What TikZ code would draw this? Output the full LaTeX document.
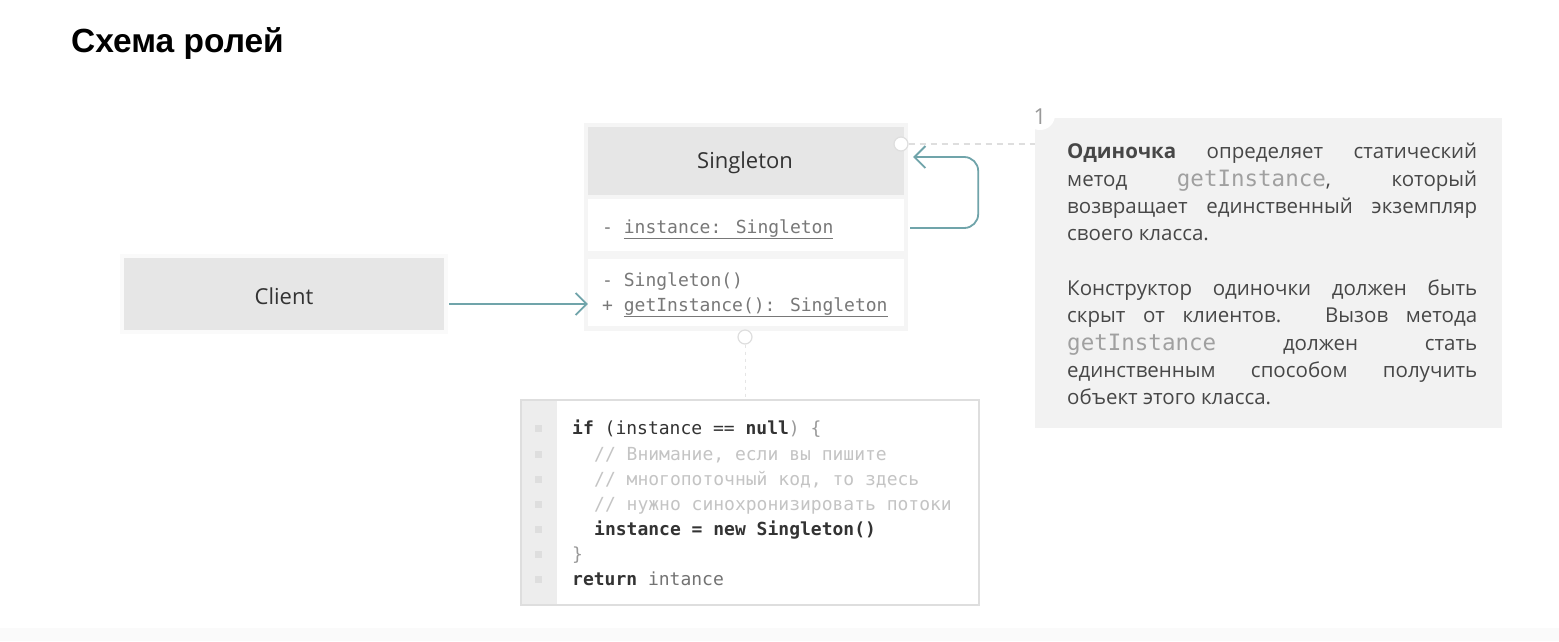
\documentclass[tikz,border=0pt]{standalone}
\usepackage{fontspec}
\setmainfont{Open Sans}
\newfontfamily\titlefont{Liberation Sans}
\newfontfamily\codefont{DejaVu Sans Mono}
\usetikzlibrary{arrows.meta,calc}

\definecolor{flowcol}{RGB}{112,164,170}
\definecolor{boxgray}{RGB}{230,230,230}
\definecolor{notegray}{RGB}{242,242,242}
\definecolor{edgegray}{RGB}{222,222,222}
\definecolor{memtext}{RGB}{120,120,120}
\definecolor{cmtgray}{RGB}{196,196,196}
\definecolor{darktext}{RGB}{51,51,51}

\newcommand{\gi}[1]{{\codefont\fontsize{22.5}{24}\selectfont\color[RGB]{160,160,160}#1}}
\newcommand{\nl}[1]{\makebox[410pt][s]{#1}}

\tikzset{
  clientbox/.style={rectangle, fill=boxgray, minimum width=320pt, minimum height=72pt,
    inner sep=0pt},
  headbox/.style={rectangle, fill=boxgray, minimum width=316pt, minimum height=68pt,
    inner sep=0pt},
  boxname/.style={inner sep=0pt, font=\fontsize{22}{26}\selectfont, text=darktext},
  membox/.style={rectangle, fill=white, minimum width=316pt, inner sep=0pt},
  memtxt/.style={anchor=base west, inner sep=0pt, text=memtext,
    font=\codefont\fontsize{18}{20}\selectfont},
  codetxt/.style={anchor=base west, inner sep=0pt, text=darktext,
    font=\codefont\fontsize{18}{20}\selectfont},
  notetxt/.style={anchor=base west, inner sep=0pt, text=darktext!90,
    font=\fontsize{20.5}{24}\selectfont},
  port/.style={circle, fill=white, draw=edgegray, line width=1.2pt,
    minimum size=14pt, inner sep=0pt},
  flow/.style={draw=flowcol, line width=1.8pt,
    -{Straight Barb[length=11pt, width=22pt, line width=1.8pt]}},
  leader/.style={draw=edgegray, line width=1.4pt, dash pattern=on 6pt off 5pt},
  gutterdot/.style={rectangle, fill=edgegray, minimum size=7pt, inner sep=0pt},
}

\begin{document}
\begin{tikzpicture}[x=1pt, y=-1pt]
  \useasboundingbox (0,0) rectangle (1559,641);
  \fill[white] (0,0) rectangle (1559,641);
  \fill[black!2] (0,628) rectangle (1559,641);

  % heading
  \node[anchor=base west, inner sep=0pt, font=\titlefont\bfseries\fontsize{33.5}{38}\selectfont]
    (title) at (71,52) {Схема ролей};

  % client
  \fill[black!2] (120,254) rectangle (448,334);
  \node[clientbox] (client) at (284,294) {};
  \node[boxname] (clientname) at (284,296) {Client};

  % singleton class
  \fill[black!4] (584,123) rectangle (908,331);
  \node[headbox] (head) at (746,161) {};
  \node[boxname] (headname) at (745,162.5) {Singleton};
  \node[membox, minimum height=52pt] (attrs) at (746,225) {};
  \node[membox, minimum height=67pt] (ops) at (746,292.5) {};
  \node[memtxt] (attr1) at (602,233) {- \underline{instance: Singleton}};
  \node[memtxt] (op1) at (602,286) {- Singleton()};
  \node[memtxt] (op2) at (602,311) {+ \underline{getInstance(): Singleton}};

  % note card
  \node[rectangle, fill=notegray, minimum width=467pt, minimum height=310pt, inner sep=0pt]
    (note) at (1268.5,273) {};
  \fill[white] (1040,115) circle (15);
  \node[inner sep=0pt, text=black!40, font=\fontsize{22}{24}\selectfont] (num) at (1040,117) {1};
  \node[notetxt] (n1) at (1067,158) {\nl{\textbf{Одиночка} определяет статический}};
  \node[notetxt] (n2) at (1067,186) {\nl{метод \gi{getInstance}, который}};
  \node[notetxt] (n3) at (1067,213) {\nl{возвращает единственный экземпляр}};
  \node[notetxt] (n4) at (1067,240) {своего класса.};
  \node[notetxt] (n5) at (1067,295) {\nl{Конструктор одиночки должен быть}};
  \node[notetxt] (n6) at (1067,322) {\nl{скрыт от клиентов. Вызов метода}};
  \node[notetxt] (n7) at (1067,350) {\nl{\gi{getInstance} должен стать}};
  \node[notetxt] (n8) at (1067,377) {\nl{единственным способом получить}};
  \node[notetxt] (n9) at (1067,404) {объект этого класса.};

  % code listing
  \node[rectangle, fill=white, draw=edgegray, line width=2pt, minimum width=458pt,
    minimum height=205pt, inner sep=0pt] (code) at (750,502.5) {};
  \fill[black!7] (522,401) rectangle (557,604);
  \foreach \yy in {428,454,479,504,529,554,579}
    \node[gutterdot] at (538,\yy) {};
  \node[codetxt] (c1) at (572,434) {\textbf{if} (instance == \textbf{null}{\color{black!40}) \{}};
  \node[codetxt, text=cmtgray] (c2) at (594,460) {// Внимание, если вы пишите};
  \node[codetxt, text=cmtgray] (c3) at (594,485) {// многопоточный код, то здесь};
  \node[codetxt, text=cmtgray] (c4) at (594,510) {// нужно синохронизировать потоки};
  \node[codetxt, font=\codefont\bfseries\fontsize{18}{20}\selectfont] (c5) at (594,535)
    {instance = new Singleton()};
  \node[codetxt, text=black!40] (c6) at (572,560) {\}};
  \node[codetxt] (c7) at (572,585) {\textbf{return} {\color{black!55}intance}};

  % ports and leaders
  \node[port] (p1) at (901,144) {};
  \node[port] (p2) at (745,337) {};
  \coordinate (leadend) at (1035,144);
  \draw[leader] (p1) -- (leadend);
  \draw[draw=black!10, line width=1pt, dash pattern=on 3pt off 4pt] (p2) -- (p2 |- code.north);

  % connectors
  \draw[flow] ([xshift=5pt, yshift=-10pt]client.east) -- ([yshift=-11.5pt]ops.west);
  \draw[flow, rounded corners=14pt] ([xshift=6pt, yshift=-3pt]attrs.east) -- ++(68,0)
    |- ([xshift=9pt, yshift=4pt]head.east);
\end{tikzpicture}
\end{document}
